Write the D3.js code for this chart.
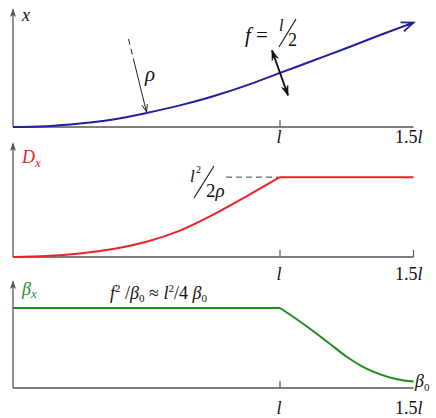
<!doctype html>
<head>
  <meta charset="utf-8" />
  <title>x, D_x, beta_x</title>
  <script src="https://d3js.org/d3.v7.min.js"></script>
  <style>
    body { margin: 0; background: #fff; }
    svg { display: block; }
    svg text { font-family: "Liberation Serif", "Times New Roman", Times, "DejaVu Serif", "Noto Serif", serif; fill: #111; }
    .it { font-style: italic; }
  </style>
</head>
<body>
  <svg></svg>
  <script>
    // positions along the line, in units of l
    var sBlue = [0, 0.125, 0.25, 0.375, 0.5, 0.625, 0.75, 0.875, 1, 1.125, 1.25, 1.375, 1.5];
    var xBlue = [0, 0.016, 0.065, 0.14, 0.26, 0.4, 0.57, 0.77, 1, 1.23, 1.46, 1.70, 1.93];
    var sRed = [0, 0.125, 0.25, 0.375, 0.5, 0.625, 0.75, 0.875, 1, 1.5];
    var dRed = [0, 0.012, 0.045, 0.1, 0.19, 0.33, 0.53, 0.76, 1, 1];
    var sGreen = [0, 1, 1.0625, 1.125, 1.1875, 1.25, 1.3125, 1.375, 1.4375, 1.5];
    var bGreen = [1, 1, 0.86, 0.71, 0.55, 0.39, 0.26, 0.17, 0.11, 0.08];
    var tickVals = [1, 1.5];
    var tickLabels = [["", "l"], ["1.5", "l"]];

    var width = 436, height = 418;
    var svg = d3.select("svg").attr("width", width).attr("height", height)
      .attr("font-family", "'Liberation Serif', 'Times New Roman', serif");

    var x = d3.scaleLinear().domain([0, 1.5]).range([13, 413.5]);
    var y1 = d3.scaleLinear().domain([0, 2.2]).range([127, 8]);
    var y2 = d3.scaleLinear().domain([0, 1.44]).range([257, 142]);
    var y3 = d3.scaleLinear().domain([0, 1.35]).range([388, 280]);

    var axisColor = "#555",
      blue = "#20209a",
      red = "#ec2227",
      green = "#1e8c1e";

    function zip(a, b) {
      return a.map(function(d, i) { return [d, b[i]]; });
    }

    // axes: vertical arrow + baseline + tick at l
    function frame(y, labelDy, endTick) {
      var g = svg.append("g");
      var x0 = x(0), yb = y(0), yt = y.range()[1];
      g.append("line").attr("x1", x0).attr("x2", x0).attr("y1", yb).attr("y2", yt + 2)
        .attr("stroke", axisColor).attr("stroke-width", 1.3);
      g.append("path")
        .attr("d", "M" + x0 + "," + yt + "L" + (x0 + 3) + "," + (yt + 9) + "L" + x0 + "," + (yt + 7) + "L" + (x0 - 3) + "," + (yt + 9) + "Z")
        .attr("fill", axisColor);
      g.append("line").attr("x1", x0).attr("x2", x(1.5)).attr("y1", yb).attr("y2", yb)
        .attr("stroke", axisColor).attr("stroke-width", 1.3);
      var tv = endTick ? tickVals : [1];
      g.selectAll(".tk").data(tv).enter().append("line")
        .attr("x1", function(d) { return x(d); }).attr("x2", function(d) { return x(d); })
        .attr("y1", yb).attr("y2", yb - 7)
        .attr("stroke", axisColor).attr("stroke-width", 1.2);
      tickVals.forEach(function(d, i) {
        var t = g.append("text").attr("y", yb + labelDy).attr("font-size", 18);
        if (i == 0) {
          t.attr("x", x(d) - 1).attr("text-anchor", "middle");
        } else {
          t.attr("x", x(d) + 9).attr("text-anchor", "end");
        }
        t.append("tspan").text(tickLabels[i][0]);
        t.append("tspan").attr("class", "it").text(tickLabels[i][1]);
      });
    }

    frame(y1, 16, false);
    frame(y2, 23, true);
    frame(y3, 26, false);

    // ---- panel 1 : x ----
    var line1 = d3.line().x(function(d) { return x(d[0]); }).y(function(d) { return y1(d[1]); })
      .curve(d3.curveMonotoneX);
    var pts1 = zip(sBlue, xBlue);
    svg.append("path").attr("d", line1(pts1))
      .attr("fill", "none").attr("stroke", blue).attr("stroke-width", 2);

    // open arrow head at end of the trajectory
    var pa = pts1[pts1.length - 2], pb = pts1[pts1.length - 1];
    var tx = x(pb[0]), ty = y1(pb[1]);
    var ang = Math.atan2(ty - y1(pa[1]), tx - x(pa[0]));
    function barb(a, len) {
      return [tx - len * Math.cos(ang + a), ty - len * Math.sin(ang + a)];
    }
    var b1 = barb(0.38, 13), b2 = barb(-0.38, 13), bm = barb(0, 7);
    svg.append("path")
      .attr("d", "M" + b1 + "L" + tx + "," + ty + "L" + b2 + "M" + bm + "L" + tx + "," + ty)
      .attr("fill", "none").attr("stroke", blue).attr("stroke-width", 1.8);

    svg.append("text").attr("class", "it").attr("x", 22).attr("y", 21)
      .attr("font-size", 18).text("x");

    // rho arrow (dashed then solid)
    var rTip = [x(0.5), y1(0.26) - 1], rStart = [rTip[0] - 18, rTip[1] - 73];
    var rMid = [rStart[0] + 0.33 * 18, rStart[1] + 0.33 * 73];
    svg.append("line").attr("x1", rStart[0]).attr("y1", rStart[1]).attr("x2", rMid[0]).attr("y2", rMid[1])
      .attr("stroke", "#222").attr("stroke-width", 1).attr("stroke-dasharray", "6,4");
    svg.append("line").attr("x1", rMid[0]).attr("y1", rMid[1]).attr("x2", rTip[0]).attr("y2", rTip[1])
      .attr("stroke", "#222").attr("stroke-width", 1);
    var ra = Math.atan2(73, 18);
    svg.append("path")
      .attr("d", "M" + (rTip[0] - 8 * Math.cos(ra + 0.35)) + "," + (rTip[1] - 8 * Math.sin(ra + 0.35)) +
        "L" + rTip + "L" + (rTip[0] - 8 * Math.cos(ra - 0.35)) + "," + (rTip[1] - 8 * Math.sin(ra - 0.35)))
      .attr("fill", "none").attr("stroke", "#222").attr("stroke-width", 1);
    svg.append("text").attr("class", "it").attr("x", 145).attr("y", 81)
      .attr("font-size", 21).text("\u03c1");

    // double arrow f = l/2 across the line at s = l
    var cx = x(1), cy = y1(1), dx = 8, dy = 22.5;
    var da = Math.atan2(2 * dy, 2 * dx);
    function head(px, py, a) {
      return "M" + px + "," + py +
        "L" + (px - 10 * Math.cos(a + 0.33)) + "," + (py - 10 * Math.sin(a + 0.33)) +
        "L" + (px - 6 * Math.cos(a)) + "," + (py - 6 * Math.sin(a)) +
        "L" + (px - 10 * Math.cos(a - 0.33)) + "," + (py - 10 * Math.sin(a - 0.33)) + "Z";
    }
    svg.append("line").attr("x1", cx - dx).attr("y1", cy - dy).attr("x2", cx + dx).attr("y2", cy + dy)
      .attr("stroke", "#111").attr("stroke-width", 1.8);
    svg.append("path").attr("d", head(cx + dx, cy + dy, da) + head(cx - dx, cy - dy, da + Math.PI))
      .attr("fill", "#111").attr("stroke", "#111").attr("stroke-width", 0.8);

    var fl = svg.append("text").attr("x", 245).attr("y", 42).attr("font-size", 21);
    fl.append("tspan").attr("class", "it").text("f");
    fl.append("tspan").text(" =");
    svg.append("text").attr("class", "it").attr("x", 279).attr("y", 31).attr("font-size", 16).text("l");
    svg.append("line").attr("x1", 279).attr("y1", 47).attr("x2", 296).attr("y2", 19)
      .attr("stroke", "#111").attr("stroke-width", 1.1);
    svg.append("text").attr("x", 288).attr("y", 46).attr("font-size", 18).text("2");

    // ---- panel 2 : D_x ----
    var line2 = d3.line().x(function(d) { return x(d[0]); }).y(function(d) { return y2(d[1]); });
    var pts2 = zip(sRed, dRed);
    svg.append("path").attr("d", line2.curve(d3.curveMonotoneX)(pts2.slice(0, 9)))
      .attr("fill", "none").attr("stroke", red).attr("stroke-width", 2);
    svg.append("path").attr("d", line2.curve(d3.curveLinear)(pts2.slice(8)))
      .attr("fill", "none").attr("stroke", red).attr("stroke-width", 2);
    svg.append("line").attr("x1", 226).attr("x2", x(1) - 2).attr("y1", y2(1)).attr("y2", y2(1))
      .attr("stroke", "#444").attr("stroke-width", 1).attr("stroke-dasharray", "6,4");

    var dl = svg.append("text").attr("x", 22).attr("y", 163).attr("font-size", 18).attr("class", "it");
    dl.append("tspan").attr("fill", red).text("D");
    dl.append("tspan").attr("fill", red).attr("font-size", 13).attr("dy", 4).text("x");

    svg.append("text").attr("class", "it").attr("x", 190).attr("y", 182).attr("font-size", 17).text("l");
    svg.append("text").attr("x", 196).attr("y", 173).attr("font-size", 10).text("2");
    svg.append("line").attr("x1", 194).attr("y1", 198).attr("x2", 214).attr("y2", 166)
      .attr("stroke", "#111").attr("stroke-width", 1.1);
    var tr = svg.append("text").attr("x", 206).attr("y", 197).attr("font-size", 19);
    tr.append("tspan").text("2");
    tr.append("tspan").attr("class", "it").text("\u03c1");

    // ---- panel 3 : beta_x ----
    var line3 = d3.line().x(function(d) { return x(d[0]); }).y(function(d) { return y3(d[1]); });
    var pts3 = zip(sGreen, bGreen);
    svg.append("path").attr("d", line3.curve(d3.curveLinear)(pts3.slice(0, 2)))
      .attr("fill", "none").attr("stroke", green).attr("stroke-width", 2);
    svg.append("path").attr("d", line3.curve(d3.curveMonotoneX)(pts3.slice(1)))
      .attr("fill", "none").attr("stroke", green).attr("stroke-width", 2);

    var bl = svg.append("text").attr("x", 22).attr("y", 295).attr("font-size", 18).attr("class", "it");
    bl.append("tspan").attr("fill", green).text("\u03b2");
    bl.append("tspan").attr("fill", green).attr("font-size", 13).attr("dy", 3).text("x");

    var fm = svg.append("text").attr("x", 110).attr("y", 299).attr("font-size", 18);
    fm.append("tspan").attr("class", "it").text("f");
    fm.append("tspan").attr("font-size", 11).attr("dy", -7).text("2");
    fm.append("tspan").attr("dy", 7).text(" /");
    fm.append("tspan").attr("class", "it").text("\u03b2");
    fm.append("tspan").attr("font-size", 11).attr("dy", 3).text("0");
    fm.append("tspan").attr("dy", -3).text(" \u2248 ");
    fm.append("tspan").attr("class", "it").text("l");
    fm.append("tspan").attr("font-size", 11).attr("dy", -7).text("2");
    fm.append("tspan").attr("dy", 7).text("/4 ");
    fm.append("tspan").attr("class", "it").text("\u03b2");
    fm.append("tspan").attr("font-size", 11).attr("dy", 3).text("0");

    var b0 = svg.append("text").attr("x", 415).attr("y", 387).attr("font-size", 18).attr("class", "it");
    b0.append("tspan").text("\u03b2");
    b0.append("tspan").attr("font-size", 11).attr("dy", 4).attr("font-style", "normal").text("0");
  </script>
</body>
